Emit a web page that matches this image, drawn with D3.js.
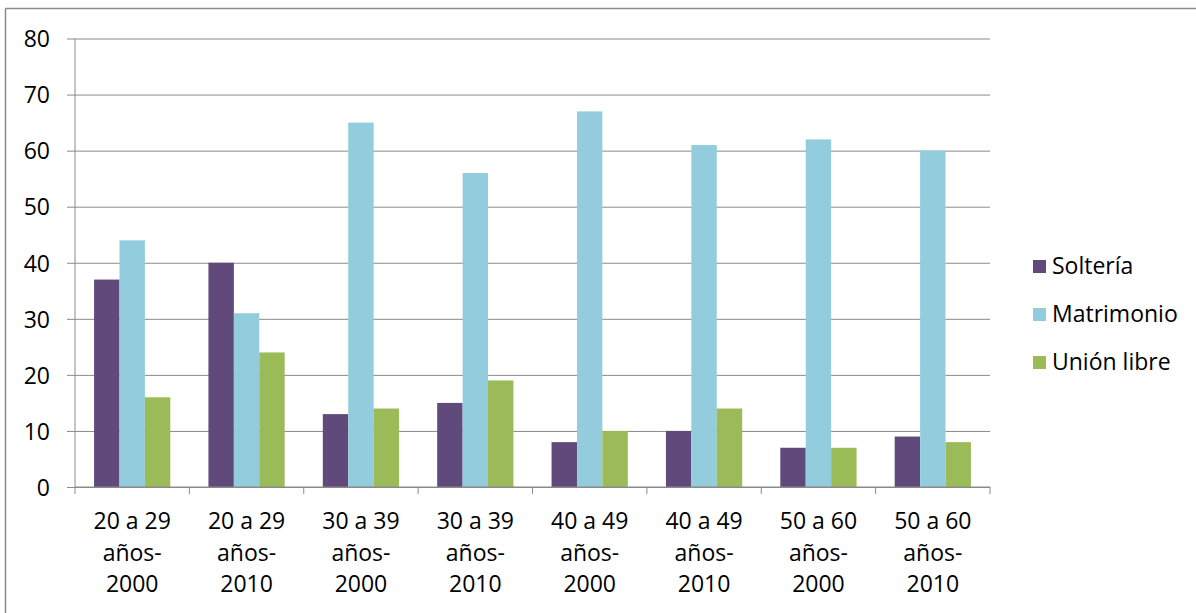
<!DOCTYPE html>
<html>
<head>
<meta charset="utf-8">
<script src="https://cdn.jsdelivr.net/npm/d3@7"></script>
<style>
  html, body { margin: 0; padding: 0; background: #ffffff; }
  svg { display: block; }
  text { font-family: "Open Sans", "Noto Sans", sans-serif; fill: #000; }
</style>
</head>
<body>
<svg id="chart" width="1196" height="613"></svg>
<script>
const categories = [
  ["20 a 29", "años-", "2000"],
  ["20 a 29", "años-", "2010"],
  ["30 a 39", "años-", "2000"],
  ["30 a 39", "años-", "2010"],
  ["40 a 49", "años-", "2000"],
  ["40 a 49", "años-", "2010"],
  ["50 a 60", "años-", "2000"],
  ["50 a 60", "años-", "2010"]
];
const seriesNames = ["Soltería", "Matrimonio", "Unión libre"];
const solteria   = [37, 40, 13, 15, 8, 10, 7, 9];
const matrimonio = [44, 31, 65, 56, 67, 61, 62, 60];
const unionLibre = [16, 24, 14, 19, 10, 14, 7, 8];
const yTicks = [0, 10, 20, 30, 40, 50, 60, 70, 80];
const colors = ["#604A7B", "#93CDDD", "#9BBB59"];

const seriesValues = [solteria, matrimonio, unionLibre];
const svg = d3.select("#chart");

const plotLeft = 75, plotRight = 990, plotTop = 38.5, plotBottom = 487;
const fontSize = 23;
const gridColor = "#8a8a8a";

// outer frame (top and left edges visible)
svg.append("line").attr("x1", 5.5).attr("x2", 1196).attr("y1", 8.5).attr("y2", 8.5)
  .attr("stroke", "#8a8a8a").attr("stroke-width", 1.5);
svg.append("line").attr("x1", 5.5).attr("x2", 5.5).attr("y1", 8.5).attr("y2", 613)
  .attr("stroke", "#8a8a8a").attr("stroke-width", 1.5);

const x = d3.scaleBand().domain(d3.range(categories.length)).range([plotLeft, plotRight]).padding(0);
const y = d3.scaleLinear().domain([0, 80]).range([plotBottom, plotTop]);
// Excel gap width 150%: bar width = band / (3 + 1.5)
const barW = x.bandwidth() / 4.5;
const xs = d3.scaleBand().domain(d3.range(seriesNames.length))
  .range([0.75 * barW, 0.75 * barW + 3 * barW]).padding(0);

// gridlines
const yAxis = d3.axisLeft(y).tickValues(yTicks).tickSize(8).tickFormat(d3.format("d"));
const gy = svg.append("g").attr("transform", `translate(${plotLeft},0)`).call(yAxis);
gy.select(".domain").remove();
gy.selectAll(".tick line").attr("stroke", gridColor).attr("x2", plotRight - plotLeft)
  .attr("x1", -8);
gy.selectAll(".tick text").attr("x", -25).attr("dy", "0.36em")
  .style("font-size", fontSize + "px").style("font-family", '"Open Sans", sans-serif').attr("fill", "#000");

// y axis line
svg.append("line").attr("x1", plotLeft).attr("x2", plotLeft).attr("y1", plotTop).attr("y2", plotBottom)
  .attr("stroke", gridColor);

// bars
seriesValues.forEach((vals, si) => {
  svg.append("g").selectAll("rect").data(vals).join("rect")
    .attr("x", (d, i) => x(i) + xs(si))
    .attr("width", xs.bandwidth())
    .attr("y", d => y(d))
    .attr("height", d => y(0) - y(d))
    .attr("fill", colors[si]);
});

// x axis
const boundaries = d3.range(categories.length + 1).map(i => plotLeft + i * x.step());
svg.append("line").attr("x1", plotLeft).attr("x2", plotRight).attr("y1", plotBottom).attr("y2", plotBottom)
  .attr("stroke", gridColor);
svg.append("g").selectAll("line").data(boundaries).join("line")
  .attr("x1", d => d).attr("x2", d => d).attr("y1", plotBottom).attr("y2", plotBottom + 7)
  .attr("stroke", gridColor);

// x labels
const lbl = svg.append("g").selectAll("text").data(categories).join("text")
  .attr("text-anchor", "middle")
  .style("font-size", fontSize + "px")
  .attr("transform", (d, i) => `translate(${x(i) + x.bandwidth() / 2},0)`);
lbl.selectAll("tspan").data(d => d).join("tspan")
  .attr("x", 0).attr("y", (d, j) => 529 + j * 31.5).text(d => d);

// legend
const lg = svg.append("g").selectAll("g").data(seriesNames).join("g")
  .attr("transform", (d, i) => `translate(1033,${260 + i * 48})`);
lg.append("rect").attr("width", 13).attr("height", 13).attr("fill", (d, i) => colors[i]);
lg.append("text").attr("x", 19).attr("y", 14).style("font-size", fontSize + "px").text(d => d);
</script>
</body>
</html>
